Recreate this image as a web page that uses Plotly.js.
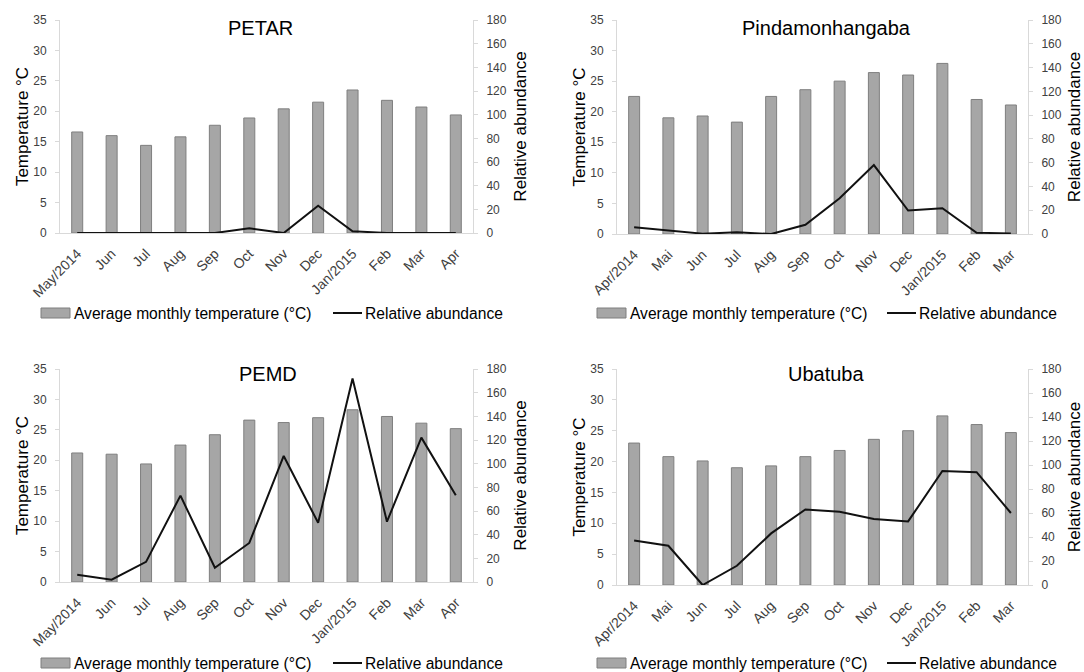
<!DOCTYPE html>
<html>
<head>
<meta charset="utf-8">
<script src="https://cdn.plot.ly/plotly-3.0.1.min.js"></script>
<style>html,body{margin:0;padding:0;background:#fff;}#chart{width:1084px;height:672px;}</style>
</head>
<body>
<div id="chart"></div>
<script>
// ---- Data ----
const monthsA = ["May/2014","Jun","Jul","Aug","Sep","Oct","Nov","Dec","Jan/2015","Feb","Mar","Apr"];
const monthsB = ["Apr/2014","Mai","Jun","Jul","Aug","Sep","Oct","Nov","Dec","Jan/2015","Feb","Mar"];

const petarTemp = [16.6,16.0,14.4,15.8,17.7,18.9,20.4,21.5,23.5,21.8,20.7,19.4];
const petarAbund = [0,0,0,0,0,4,0,23,1.5,0,0,0];

const pindaTemp = [22.5,19.0,19.3,18.3,22.5,23.6,25.0,26.4,26.0,27.9,22.0,21.1];
const pindaAbund = [5.6,3,0.3,1.4,0,7.8,30,58,19.7,21.7,1.1,0.5];

const pemdTemp = [21.2,21.0,19.4,22.5,24.2,26.6,26.2,27.0,28.3,27.2,26.1,25.2];
const pemdAbund = [6.2,2,17,73,12,33,106.5,50,172,51,122,73.4];

const ubaTemp = [23.0,20.8,20.1,19.0,19.3,20.8,21.8,23.6,25.0,27.4,26.0,24.7];
const ubaAbund = [37,32.7,0,16,43,63,61,55,53,95,94,60];

const panelTitles = ["PETAR","Pindamonhangaba","PEMD","Ubatuba"];
const barName = "Average monthly temperature (°C)";
const lineName = "Relative abundance";
const leftTitle = "Temperature °C";
const rightTitle = "Relative abundance";

// ---- Styling ----
const FONT = "Liberation Sans, Arial, sans-serif";
const AXC = "#d9d9d9";
const TICKC = "#404040";
const BARFILL = "#a6a6a6";
const BAREDGE = "#7f7f7f";

const panels = [
  {cats: monthsA, temp: petarTemp, ab: petarAbund, x:"x", yl:"y", yr:"y2"},
  {cats: monthsB, temp: pindaTemp, ab: pindaAbund, x:"x2", yl:"y3", yr:"y4"},
  {cats: monthsA, temp: pemdTemp, ab: pemdAbund, x:"x3", yl:"y5", yr:"y6"},
  {cats: monthsB, temp: ubaTemp, ab: ubaAbund, x:"x4", yl:"y7", yr:"y8"}
];

const W = 1084, H = 672;
const px = v => v / W;
const py = v => 1 - v / H;
const geom = [
  {x0:60, x1:473, top:20, bot:233, tx:260, ty:28, r0:41, t0:72, l0:333, t1:363, ly:313},
  {x0:617, x1:1028, top:20, bot:234, tx:826, ty:28, r0:597, t0:628, l0:887, t1:917, ly:313},
  {x0:60, x1:473, top:369, bot:582, tx:268, ty:374, r0:41, t0:72, l0:333, t1:363, ly:663},
  {x0:617, x1:1028, top:369, bot:585, tx:826, ty:374, r0:597, t0:628, l0:887, t1:917, ly:663}
];

const data = [];
const layout = {
  width: W, height: H,
  margin: {l:0, r:0, t:0, b:0},
  paper_bgcolor: "#fff", plot_bgcolor: "#fff",
  font: {family: FONT, color: "#000"},
  bargap: 0.68,
  showlegend: false,
  annotations: [],
  shapes: []
};

panels.forEach((p, i) => {
  const g = geom[i];
  data.push({
    type: "bar", x: p.cats, y: p.temp, name: barName,
    xaxis: p.x, yaxis: p.yl,
    marker: {color: BARFILL, line: {color: BAREDGE, width: 1}},
    hoverinfo: "skip"
  });
  data.push({
    type: "scatter", mode: "lines", x: p.cats, y: p.ab, name: lineName,
    xaxis: p.x, yaxis: p.yr,
    line: {color: "#111", width: 2},
    hoverinfo: "skip"
  });
  const xk = "xaxis" + (i === 0 ? "" : (i + 1));
  const ylk = "yaxis" + (i === 0 ? "" : (2 * i + 1));
  const yrk = "yaxis" + (2 * i + 2);
  layout[xk] = {
    domain: [px(g.x0), px(g.x1)], anchor: p.yl,
    type: "category", range: [-0.5, 11.5],
    showline: true, linecolor: AXC, linewidth: 1,
    ticks: "", tickangle: -45, ticklabelstandoff: 6,
    tickfont: {family: FONT, size: 14, color: TICKC},
    showgrid: false, zeroline: false, fixedrange: true
  };
  layout[ylk] = {
    domain: [py(g.bot), py(g.top)], anchor: p.x,
    range: [0, 35], dtick: 5, tick0: 0,
    showline: true, linecolor: AXC, linewidth: 1,
    ticks: "outside", ticklen: 4, tickcolor: AXC,
    ticklabelstandoff: 6,
    tickfont: {family: FONT, size: 12, color: TICKC},
    showgrid: false, zeroline: false,
    title: {text: leftTitle, font: {family: FONT, size: 17, color: "#000"}, standoff: 0}
  };
  layout[yrk] = {
    domain: [py(g.bot), py(g.top)], anchor: p.x, overlaying: p.yl, side: "right",
    range: [0, 180], dtick: 20, tick0: 0,
    showline: true, linecolor: AXC, linewidth: 1,
    ticks: "outside", ticklen: 4, tickcolor: AXC,
    ticklabelstandoff: 6,
    tickfont: {family: FONT, size: 12, color: TICKC},
    showgrid: false, zeroline: false,
    title: {text: rightTitle, font: {family: FONT, size: 17, color: "#000"}, standoff: 8}
  };
  // panel title
  layout.annotations.push({
    text: panelTitles[i], xref: "paper", yref: "paper",
    x: px(g.tx), y: py(g.ty), xanchor: "center", yanchor: "middle",
    showarrow: false, font: {family: FONT, size: 20, color: "#000"}
  });
  // legend (drawn as key shapes + text)
  layout.shapes.push({
    type: "rect", xref: "paper", yref: "paper",
    x0: px(g.r0), x1: px(g.r0 + 29), y0: py(g.ly + 5), y1: py(g.ly - 5),
    fillcolor: BARFILL, line: {color: BAREDGE, width: 1}
  });
  layout.shapes.push({
    type: "line", xref: "paper", yref: "paper",
    x0: px(g.l0), x1: px(g.l0 + 29), y0: py(g.ly), y1: py(g.ly),
    line: {color: "#111", width: 2}
  });
  layout.annotations.push({
    text: barName, xref: "paper", yref: "paper",
    x: px(g.t0), y: py(g.ly), xanchor: "left", yanchor: "middle",
    showarrow: false, font: {family: FONT, size: 15.6, color: "#000"}
  });
  layout.annotations.push({
    text: lineName, xref: "paper", yref: "paper",
    x: px(g.t1), y: py(g.ly), xanchor: "left", yanchor: "middle",
    showarrow: false, font: {family: FONT, size: 15.6, color: "#000"}
  });
});

Plotly.newPlot("chart", data, layout, {staticPlot: true, displayModeBar: false});
</script>
</body>
</html>
